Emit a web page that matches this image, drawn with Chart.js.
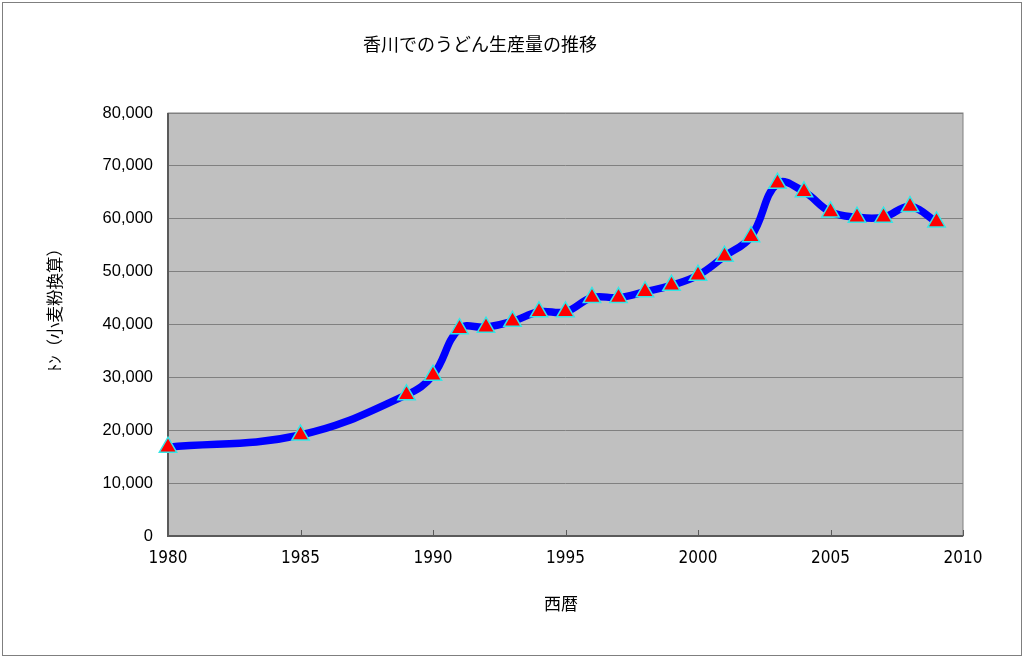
<!DOCTYPE html>
<html>
<head>
<meta charset="utf-8">
<script src="https://cdn.jsdelivr.net/npm/chart.js@4.4.1/dist/chart.umd.min.js"></script>
<style>
  html, body { margin: 0; padding: 0; background: #fff; }
  #wrap { width: 1024px; height: 659px; position: relative; }
</style>
</head>
<body>
<div id="wrap"><canvas id="udonChart" width="1024" height="659"></canvas></div>
<script>
// 香川でのうどん生産量（トン、小麦粉換算）
const years = [1980, 1985, 1989, 1990, 1991, 1992, 1993, 1994, 1995, 1996, 1997, 1998,
               1999, 2000, 2001, 2002, 2003, 2004, 2005, 2006, 2007, 2008, 2009];
const production = [16800, 19100, 26700, 30400, 39200, 39500, 40600, 42400, 42400, 45100, 45100, 46200,
                    47400, 49300, 52900, 56600, 66700, 65100, 61300, 60300, 60300, 62300, 59400];

const chartTitle = '香川でのうどん生産量の推移';
const xTitle = '西暦';
const yTitle = 'ﾄﾝ（小麦粉換算）';

// plot background, frame, inner x tick marks, page border and titles
const excelLook = {
    id: 'excelLook',
    beforeDraw(chart) {
        const { ctx, chartArea: a } = chart;
        ctx.save();
        ctx.fillStyle = '#fff';
        ctx.fillRect(0, 0, chart.width, chart.height);
        ctx.strokeStyle = '#7f7f7f';
        ctx.lineWidth = 1;
        ctx.strokeRect(2.5, 2.5, chart.width - 5, chart.height - 6);
        ctx.fillStyle = '#c0c0c0';
        ctx.fillRect(a.left, a.top, a.right - a.left, a.bottom - a.top);
        ctx.restore();
    },
    beforeDatasetsDraw(chart) {
        const { ctx, chartArea: a } = chart;
        const xs = chart.scales.x;
        ctx.save();
        ctx.strokeStyle = '#808080';
        ctx.lineWidth = 1;
        ctx.strokeRect(a.left, a.top, a.right - a.left, a.bottom - a.top);
        ctx.strokeStyle = '#5a5a5a';
        ctx.lineWidth = 2;
        ctx.beginPath();
        ctx.moveTo(a.left, a.top);
        ctx.lineTo(a.left, a.bottom);
        ctx.lineTo(a.right, a.bottom);
        ctx.stroke();
        ctx.lineWidth = 1;
        xs.ticks.forEach(t => {
            const px = Math.round(xs.getPixelForValue(t.value)) + 0.5;
            ctx.beginPath();
            ctx.moveTo(px, a.bottom);
            ctx.lineTo(px, a.bottom - 6);
            ctx.stroke();
        });
        ctx.restore();
    },
    afterDraw(chart) {
        const { ctx } = chart;
        ctx.save();
        ctx.fillStyle = '#000';
        ctx.textAlign = 'center';
        ctx.textBaseline = 'middle';
        ctx.font = '18px "Noto Sans CJK JP", sans-serif';
        ctx.fillText(chartTitle, 480, 44);
        ctx.font = '17px "Noto Sans CJK JP", sans-serif';
        ctx.fillText(xTitle, 561, 604);
        ctx.translate(55, 306);
        ctx.rotate(-Math.PI / 2);
        ctx.font = '16.5px "Noto Sans CJK JP", sans-serif';
        ctx.fillText(yTitle, 0, 0);
        ctx.restore();
    }
};

const ctx = document.getElementById('udonChart').getContext('2d');
new Chart(ctx, {
    type: 'line',
    data: {
        datasets: [{
            label: 'うどん生産量',
            data: years.map((y, i) => ({ x: y, y: production[i] })),
            borderColor: '#0000ff',
            borderWidth: 7.5,
            tension: 0.4,
            fill: false,
            clip: false,
            pointStyle: 'triangle',
            pointRadius: 10,
            pointBackgroundColor: '#ff0000',
            pointBorderColor: '#33e6e6',
            pointBorderWidth: 1.5
        }]
    },
    options: {
        responsive: false,
        animation: false,
        layout: { padding: { left: 30, right: 61, top: 113, bottom: 30 } },
        plugins: {
            legend: { display: false },
            tooltip: { enabled: false }
        },
        scales: {
            x: {
                type: 'linear',
                min: 1980,
                max: 2010,
                afterFit: s => { s.height = 93; },
                ticks: {
                    stepSize: 5,
                    color: '#000',
                    padding: 12,
                    font: { family: '"DejaVu Sans Condensed", "Liberation Sans Narrow", "Liberation Sans", sans-serif', size: 17 },
                    callback: v => String(v)
                },
                grid: { drawOnChartArea: false, drawTicks: false },
                border: { display: false }
            },
            y: {
                min: 0,
                max: 80000,
                afterFit: s => { s.width = 138; },
                ticks: {
                    stepSize: 10000,
                    color: '#000',
                    padding: 15,
                    font: { family: '"Liberation Sans", Arial, sans-serif', size: 16.5 },
                    callback: v => v.toLocaleString('en-US')
                },
                grid: { color: '#808080', lineWidth: 1, drawTicks: false },
                border: { display: false }
            }
        }
    },
    plugins: [excelLook]
});
</script>
</body>
</html>
